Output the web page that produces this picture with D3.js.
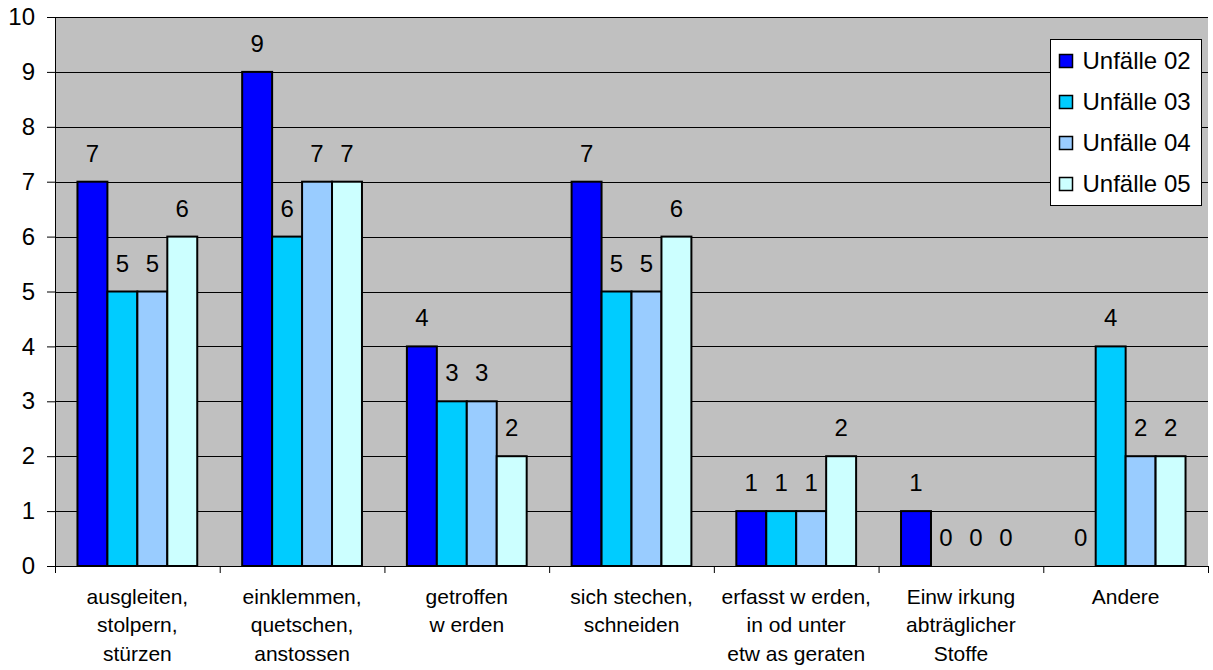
<!DOCTYPE html>
<html>
<head>
<meta charset="utf-8">
<script src="https://cdn.jsdelivr.net/npm/d3@7"></script>
<style>
  body { margin: 0; background: #fff; }
  svg { display: block; font-family: "Liberation Sans", Arial, sans-serif; }
</style>
</head>
<body>
<svg id="chart" width="1213" height="670"></svg>
<script>
// Categories (wrapped like in the original)
const categories = [
  ["ausgleiten,", "stolpern,", "stürzen"],
  ["einklemmen,", "quetschen,", "anstossen"],
  ["getroffen", "w erden"],
  ["sich stechen,", "schneiden"],
  ["erfasst w erden,", "in od unter", "etw as geraten"],
  ["Einw irkung", "abträglicher", "Stoffe"],
  ["Andere"]
];
const seriesNames = ["Unfälle 02", "Unfälle 03", "Unfälle 04", "Unfälle 05"];
const unfaelle02 = [7, 9, 4, 7, 1, 1, 0];
const unfaelle03 = [5, 6, 3, 5, 1, 0, 4];
const unfaelle04 = [5, 7, 3, 5, 1, 0, 2];
const unfaelle05 = [6, 7, 2, 6, 2, 0, 2];
const seriesColors = ["#0000FF", "#00CCFF", "#99CCFF", "#CCFFFF"];
const yTicks = [0, 1, 2, 3, 4, 5, 6, 7, 8, 9, 10];

const series = [unfaelle02, unfaelle03, unfaelle04, unfaelle05];

const margin = { top: 17, right: 5, bottom: 104, left: 55 };
const width = 1213 - margin.left - margin.right;
const height = 670 - margin.top - margin.bottom;

const svg = d3.select("#chart")
  .append("g")
  .attr("transform", `translate(${margin.left},${margin.top})`);

const x = d3.scaleBand()
  .domain(d3.range(categories.length))
  .range([0, width]);

// Excel style: gap width 150% of a bar
const barW = x.bandwidth() / (series.length + 1.5);
const x1 = d3.scaleBand()
  .domain(d3.range(series.length))
  .range([barW * 0.75, barW * 0.75 + barW * series.length]);

const y = d3.scaleLinear().domain([0, 10]).range([height, 0]);

// Plot background
svg.append("rect")
  .attr("width", width)
  .attr("height", height)
  .attr("fill", "#C0C0C0");

// Gridlines
svg.append("g")
  .selectAll("line")
  .data(yTicks.filter(d => d > 0))
  .join("line")
  .attr("x1", 0)
  .attr("x2", width)
  .attr("y1", d => Math.round(y(d)) + 0.5)
  .attr("y2", d => Math.round(y(d)) + 0.5)
  .attr("stroke", "#000")
  .attr("stroke-width", 1);

// Bars
const groups = svg.append("g")
  .selectAll("g")
  .data(series)
  .join("g")
  .attr("fill", (d, i) => seriesColors[i]);

groups.selectAll("rect")
  .data((d, i) => d.map((v, j) => ({ v, j, i })))
  .join("rect")
  .attr("x", d => x(d.j) + x1(d.i))
  .attr("y", d => y(d.v))
  .attr("width", x1.bandwidth())
  .attr("height", d => height - y(d.v))
  .attr("stroke", "#000")
  .attr("stroke-width", 2)
  .attr("display", d => d.v > 0 ? null : "none");

// Value labels
svg.append("g")
  .selectAll("text")
  .data(series.flatMap((s, i) => s.map((v, j) => ({ v, j, i }))))
  .join("text")
  .attr("x", d => x(d.j) + x1(d.i) + x1.bandwidth() / 2)
  .attr("y", d => y(d.v) - 20)
  .attr("text-anchor", "middle")
  .attr("font-size", 24)
  .attr("fill", "#000")
  .text(d => d.v);

// Axes
const yAxis = svg.append("g")
  .call(d3.axisLeft(y).tickValues(yTicks).tickSize(8).tickFormat(d3.format("d")));
yAxis.select(".domain").attr("stroke", "#000").attr("stroke-width", 1);
yAxis.selectAll("text")
  .attr("font-size", 24)
  .attr("font-family", "Liberation Sans, Arial, sans-serif")
  .attr("fill", "#000")
  .attr("x", -20);

const xAxis = svg.append("g")
  .attr("transform", `translate(0,${height})`);
xAxis.append("line")
  .attr("x1", 0).attr("x2", width)
  .attr("y1", 0.5).attr("y2", 0.5)
  .attr("stroke", "#000");
xAxis.selectAll("line.tick")
  .data(d3.range(categories.length + 1))
  .join("line")
  .attr("class", "tick")
  .attr("x1", d => d * x.step() + 0.5)
  .attr("x2", d => d * x.step() + 0.5)
  .attr("y1", 0)
  .attr("y2", 7)
  .attr("stroke", "#000");

xAxis.selectAll("text.cat")
  .data(categories)
  .join("text")
  .attr("class", "cat")
  .attr("text-anchor", "middle")
  .attr("font-size", 21)
  .attr("fill", "#000")
  .attr("transform", (d, i) => `translate(${x(i) + x.bandwidth() / 2},38)`)
  .selectAll("tspan")
  .data(d => d)
  .join("tspan")
  .attr("x", 0)
  .attr("y", (d, i) => i * 28.3)
  .text(d => d);

// Legend
const legend = d3.select("#chart").append("g")
  .attr("transform", "translate(1050.5,39.5)");
legend.append("rect")
  .attr("width", 151)
  .attr("height", 166)
  .attr("fill", "#fff")
  .attr("stroke", "#000")
  .attr("stroke-width", 1);
const items = legend.selectAll("g.item")
  .data(seriesNames)
  .join("g")
  .attr("class", "item")
  .attr("transform", (d, i) => `translate(9,${21 + i * 41})`);
items.append("rect")
  .attr("x", 0)
  .attr("y", -6)
  .attr("width", 13)
  .attr("height", 13)
  .attr("fill", (d, i) => seriesColors[i])
  .attr("stroke", "#000")
  .attr("stroke-width", 1.5);
items.append("text")
  .attr("x", 23)
  .attr("y", 8)
  .attr("font-size", 24)
  .attr("fill", "#000")
  .text(d => d);
</script>
</body>
</html>
